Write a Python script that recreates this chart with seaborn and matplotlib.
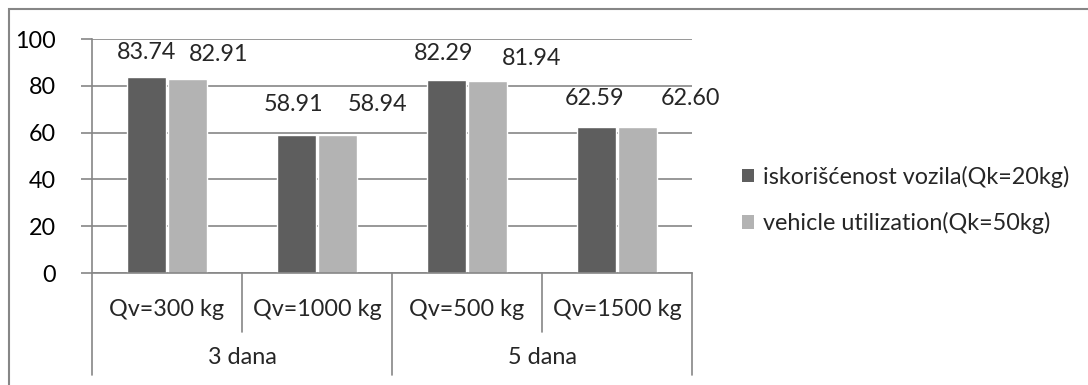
import matplotlib
matplotlib.use("Agg")
import matplotlib.pyplot as plt
import matplotlib.patches as patches
import matplotlib.transforms as mtransforms
import pandas as pd
import seaborn as sns

# chart data
groups = ["3 dana", "3 dana", "5 dana", "5 dana"]
capacities = ["Qv=300 kg", "Qv=1000 kg", "Qv=500 kg", "Qv=1500 kg"]
series_names = ["iskorišćenost vozila(Qk=20kg)", "vehicle utilization(Qk=50kg)"]
util_20 = [83.74, 58.91, 82.29, 62.59]
util_50 = [82.91, 58.94, 81.94, 62.60]
y_ticks = [0, 20, 40, 60, 80, 100]

df = pd.DataFrame({
    "category": capacities * 2,
    "series": [series_names[0]] * 4 + [series_names[1]] * 4,
    "value": util_20 + util_50,
})

sns.set_style("white")
plt.rcParams["font.family"] = ["Lato", "DejaVu Sans"]
fs = 16.8
plt.rcParams["font.size"] = fs

grey = "#868686"
colors = ["#5e5e5e", "#b3b3b3"]

fig = plt.figure(figsize=(10.88, 3.85), dpi=100)
ax = fig.add_axes([92 / 1088, 1 - 273 / 385, 600 / 1088, 234 / 385])

sns.barplot(data=df, x="category", y="value", hue="series", order=capacities,
            hue_order=series_names, palette=colors, width=0.55, gap=0.06,
            saturation=1, ax=ax, legend=True)

ax.set_xlim(-0.5, 3.5)
ax.set_ylim(0, 100)
ax.set_yticks(y_ticks)
ax.set_yticklabels([str(t) for t in y_ticks], color="black")
ax.yaxis.grid(True, color=grey, linewidth=1.2)
ax.set_axisbelow(True)
ax.set_xlabel("")
ax.set_ylabel("")
ax.set_xticks([])
for side in ["top", "right"]:
    ax.spines[side].set_visible(False)
ax.spines["left"].set_color(grey)
ax.spines["bottom"].set_color(grey)
ax.spines["left"].set_linewidth(1.2)
ax.spines["bottom"].set_linewidth(1.2)
ax.tick_params(axis="y", length=8, width=1.2, color=grey, pad=18, direction="out", left=True)

# value labels: (dx, dy) in pixels from bar top, per series
offsets = [[(0, 25), (-3, 31), (-3, 27), (-2, 28)],
           [(31, 24), (40, 31), (44, 23), (53, 28)]]
for s, container in enumerate(ax.containers):
    vals = (util_20, util_50)[s]
    for i, bar in enumerate(container):
        dx, dy = offsets[s][i]
        ax.annotate(f"{vals[i]:.2f}", xy=(bar.get_x() + bar.get_width() / 2, bar.get_height()),
                    xytext=(dx, dy), textcoords="offset pixels",
                    ha="center", va="center", fontsize=fs)

# two-level category axis
trans = mtransforms.blended_transform_factory(ax.transData, ax.transAxes)
short = -(332 - 273) / 234
long_ = -(375 - 273) / 234
for x in [-0.5, 0.5, 1.5, 2.5, 3.5]:
    y_end = short if x in (0.5, 2.5) else long_
    ax.plot([x, x], [0, y_end], color=grey, lw=1.2, transform=trans, clip_on=False)
for i, lab in enumerate(capacities):
    ax.text(i, -(310 - 273) / 234, lab, transform=trans, ha="center", va="center")
for g, xc in [(groups[0], 0.5), (groups[2], 2.5)]:
    ax.text(xc, -(358 - 273) / 234, g, transform=trans, ha="center", va="center")

# legend
ax.legend_.remove()
handles = [patches.Patch(facecolor=c, edgecolor="none") for c in colors]
fig.legend(handles, series_names, loc="center left", bbox_to_anchor=(721 / 1088, 1 - 200 / 385),
           frameon=False, handlelength=0.5, handleheight=0.5, handletextpad=0.4,
           labelspacing=1.05, fontsize=fs)

# chart border (cropped on right and bottom)
fig.add_artist(patches.Rectangle((9 / 1088, -0.2), 1.2, 1.2 - 9 / 385,
                                 transform=fig.transFigure, fill=False,
                                 edgecolor=grey, linewidth=1.5))

fig.savefig("out.png", dpi=100)
